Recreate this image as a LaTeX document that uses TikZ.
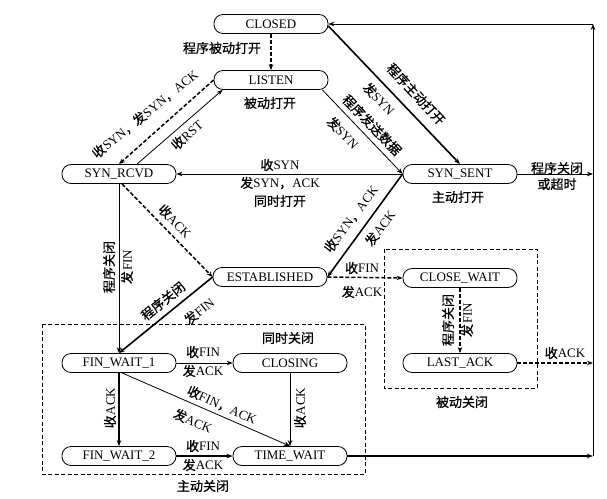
\documentclass[tikz,border=0pt]{standalone}
\usepackage{fontspec}
\setmainfont{Liberation Serif}
\newfontfamily\cjk{Noto Sans CJK SC}[FakeBold=0.8]
\newcommand\zh[1]{{\cjk #1}}
\usetikzlibrary{arrows.meta}
\tikzset{
  st/.style={draw, line width=0.8pt, rounded corners=9pt, minimum width=114pt, minimum height=19pt, inner sep=0pt},
  lbl/.style={inner sep=0pt, align=center},
  tip/.style={-{Stealth[length=6pt,width=4.5pt]}},
  tline/.style={tip, line width=0.8pt},
  kline/.style={tip, line width=1.6pt},
  dline/.style={tip, line width=1.5pt, dash pattern=on 4pt off 2pt},
  gbox/.style={draw, line width=0.7pt, dash pattern=on 4pt off 2.5pt}
}
\begin{document}
\begin{tikzpicture}[x=1pt,y=-1pt,font=\fontsize{13}{16}\selectfont]
\useasboundingbox (0,0) rectangle (607,498);
% boxes
\draw[gbox] (42,324) rectangle (365,474);
\draw[gbox] (384,249) rectangle (537,388);
% states
\node[st] (CLOSED) at (271,24) {CLOSED};
\node[st] (LISTEN) at (271,80) {LISTEN};
\node[st] (SYNRCVD) at (119,174) {SYN\_RCVD};
\node[st] (SYNSENT) at (460,174) {SYN\_SENT};
\node[st] (ESTAB) at (270,277) {ESTABLISHED};
\node[st] (CLOSEWAIT) at (460,278) {CLOSE\_WAIT};
\node[st] (LASTACK) at (460,363) {LAST\_ACK};
\node[st] (FW1) at (119,363) {FIN\_WAIT\_1};
\node[st] (CLOSING) at (290,363) {CLOSING};
\node[st] (FW2) at (119,456) {FIN\_WAIT\_2};
\node[st] (TW) at (290,456) {TIME\_WAIT};
% free ends
\coordinate (Rtop) at (593,24);
\coordinate (Rss) at (593,174);
\coordinate (Rla) at (593,363);
\coordinate (Rtw) at (593,456);
% connectors
\draw[dline] (CLOSED.south) -- (LISTEN.north);
\draw[dline] (LISTEN.west) -- (SYNRCVD.north);
\draw[tline] ([xshift=18pt]SYNRCVD.north) -- ([xshift=9pt]LISTEN.south west);
\draw[tline] ([xshift=-6pt]LISTEN.south east) -- (SYNSENT.west);
\draw[kline] ([yshift=-2pt]CLOSED.east) -- (SYNSENT.north);
\draw[tline] (SYNSENT.west) -- (SYNRCVD.east);
\draw[tline] (SYNSENT.east) -- (Rss);
\draw[dline] ([xshift=3pt]SYNRCVD.south) -- (ESTAB.west);
\draw[kline] (SYNSENT.west) -- (ESTAB.east);
\draw[dline] (ESTAB.east) -- (CLOSEWAIT.west);
\draw[dline] (CLOSEWAIT.south) -- (LASTACK.north);
\draw[dline] (LASTACK.east) -- (Rla);
\draw[tline] (SYNRCVD.south) -- (FW1.north);
\draw[kline] (ESTAB.west) -- (FW1.north);
\draw[tline] (FW1.east) -- (CLOSING.west);
\draw[kline] (FW1.south) -- (FW2.north);
\draw[tline] ([xshift=3pt]FW1.south) -- (TW.north);
\draw[tline] (CLOSING.south) -- (TW.north);
\draw[kline] (FW2.east) -- (TW.west);
\draw[kline] (TW.east) -- (Rtw);
\draw[tline] (Rtw) -- (Rtop);
\draw[tline] (Rtop) -- (CLOSED.east);
% labels
\node[lbl] (l1) at (222,48) {\zh{程序被动打开}};
\node[lbl,rotate=39] (l2) at (145,114) {\zh{收}SYN\zh{，发}SYN\zh{，}ACK};
\node[lbl,rotate=41] (l3) at (187,135) {\zh{收}RST};
\node[lbl,rotate=-46] (l4) at (372,125) {\zh{程序发送数据}};
\node[lbl,rotate=-46] (l5) at (343,133) {\zh{发}SYN};
\node[lbl,rotate=-47] (l6) at (416,94) {\zh{程序主动打开}};
\node[lbl,rotate=-47] (l7) at (379,99) {\zh{发}SYN};
\node[lbl] (l8) at (280,165) {\zh{收}SYN};
\node[lbl] (l8b) at (280,183) {\zh{发}SYN\zh{，}ACK};
\node[lbl] (l8c) at (280,201) {\zh{同时打开}};
\node[lbl] (l9) at (270,103) {\zh{被动打开}};
\node[lbl] (l10) at (458,197) {\zh{主动打开}};
\node[lbl] (l11) at (557,176) {\zh{程序关闭}\\\zh{或超时}};
\node[lbl,rotate=-45] (l12) at (175,221) {\zh{收}ACK};
\node[lbl,rotate=53] (l13) at (351,219) {\zh{收}SYN\zh{，}ACK};
\node[lbl,rotate=53] (l13b) at (380,228) {\zh{发}ACK};
\node[lbl] (l14) at (362,268) {\zh{收}FIN};
\node[lbl] (l14b) at (362,292) {\zh{发}ACK};
\node[lbl,rotate=90] (l15) at (448,320) {\zh{程序关闭}};
\node[lbl,rotate=90] (l15b) at (467,320) {\zh{发}FIN};
\node[lbl,rotate=90] (l16) at (109,267) {\zh{程序关闭}};
\node[lbl,rotate=90] (l16b) at (127,267) {\zh{发}FIN};
\node[lbl,rotate=90] (l17) at (110,408) {\zh{收}ACK};
\node[lbl,rotate=90] (l18) at (300,408) {\zh{收}ACK};
\node[lbl,rotate=39] (l19) at (163,301) {\zh{程序关闭}};
\node[lbl,rotate=39] (l19b) at (199,311) {\zh{发}FIN};
\node[lbl] (l20) at (203,352) {\zh{收}FIN};
\node[lbl] (l20b) at (203,371) {\zh{发}ACK};
\node[lbl,rotate=-24] (l21) at (222,405) {\zh{收}FIN\zh{，}ACK};
\node[lbl,rotate=-24] (l21b) at (193,421) {\zh{发}ACK};
\node[lbl] (l22) at (203,446) {\zh{收}FIN};
\node[lbl] (l22b) at (203,465) {\zh{发}ACK};
\node[lbl] (l23) at (565,353) {\zh{收}ACK};
\node[lbl] (b1) at (288,338) {\zh{同时关闭}};
\node[lbl] (b2) at (203,486) {\zh{主动关闭}};
\node[lbl] (b3) at (462,402) {\zh{被动关闭}};
\end{tikzpicture}
\end{document}
